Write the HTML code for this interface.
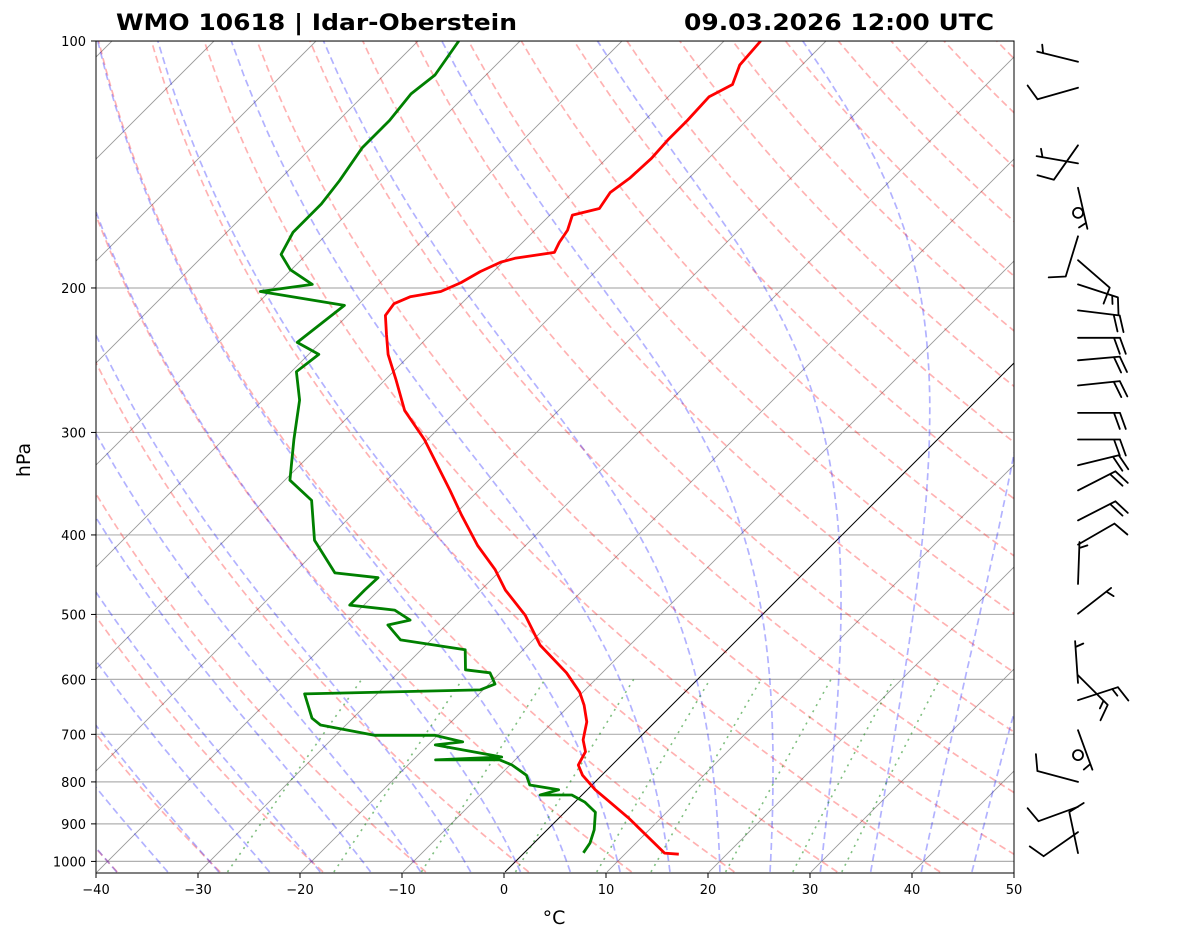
<!DOCTYPE html>
<html><head><meta charset="utf-8"><style>
body{margin:0;background:#fff}
svg{display:block;font-family:"DejaVu Sans","Liberation Sans",sans-serif}
</style></head><body>
<svg id="chart" width="1181" height="941" viewBox="0 0 1181 941" xmlns="http://www.w3.org/2000/svg">
<defs><clipPath id="clip"><rect x="96" y="41" width="918" height="832"/></clipPath></defs>
<rect width="1181" height="941" fill="#fff"/>
<text x="116" y="30" font-size="22" font-weight="bold" textLength="401" lengthAdjust="spacingAndGlyphs">WMO 10618 | Idar-Oberstein</text>
<text x="684" y="30" font-size="22" font-weight="bold" textLength="310" lengthAdjust="spacingAndGlyphs">09.03.2026 12:00 UTC</text>
<g id="plot" clip-path="url(#clip)"></g>
<g id="axes"></g>
<g id="barbs" stroke="#000" stroke-width="1.8" fill="none" stroke-linecap="round"></g>
<text x="30" y="460" font-size="19" text-anchor="middle" transform="rotate(-90 30 460)">hPa</text>
<text x="554" y="924" font-size="19" text-anchor="middle">°C</text>
</svg>
<script>
const tempP=[980,977,885,842,818,785,763,735,711,676,645,622,589,545,501,467,441,412,378,353,306,282,259,241,228,216,209,205,202,197,191,186,184,181,176,170,163,160,153,147,139,132,125,117,113,107,100];
const tempT=[15.3,13.8,6.8,3.0,0.8,-1.9,-3.3,-3.9,-5.3,-6.7,-8.6,-10.3,-13.5,-18.8,-23.2,-27.6,-30.6,-34.7,-39.3,-42.8,-50.3,-55.1,-58.9,-62.2,-64.3,-66.3,-66.6,-65.7,-63.2,-62.1,-61.3,-60.2,-59.2,-55.9,-56.4,-56.8,-57.8,-55.8,-56.3,-55.8,-55.6,-55.8,-55.8,-56.0,-54.9,-56.1,-56.4];
const dewP=[976,950,915,871,847,830,830,818,807,785,763,752,752,746,721,715,702,702,682,669,625,618,608,589,584,552,537,515,508,494,487,467,451,445,406,363,343,306,274,253,241,233,210,202,198,190,182,171,158,148,135,125,116,110,100];
const dewT=[5.8,5.5,4.6,3.0,1.0,-1.0,-4.1,-2.8,-6.1,-7.4,-9.8,-11.5,-17.8,-11.6,-19.3,-16.9,-20.3,-26.2,-32.5,-34.0,-37.1,-20.3,-19.4,-21.0,-23.7,-25.7,-33.0,-35.7,-34.0,-36.5,-41.4,-41.4,-41.3,-46.0,-51.2,-55.4,-59.5,-63.1,-66.4,-69.5,-69.0,-72.3,-71.3,-80.9,-76.5,-80.1,-82.5,-83.5,-83.5,-84.0,-85.0,-85.0,-85.5,-85.0,-86.0];
const windP=[106,114,134,141,151,162,173,185,198,213,230,245,263,284,306,329,353,384,411,459,499,593,606,636,692,742,800,858,921,977];
const windDir=[284,254,215,280,167,0,197,131,108,97,90,85,84,90,90,76,63,63,60,2,52,135,356,72,160,0,285,250,235,348];
const windSpd=[5,10,10,5,5,0,10,10,15,20,20,20,20,20,20,20,20,20,10,5,5,15,5,15,5,0,10,10,10,10];
const xTicks=[-40,-30,-20,-10,0,10,20,30,40,50];
const yTicks=[100,200,300,400,500,600,700,800,900,1000];
const dryT0=[-40,-30,-20,-10,0,10,20,30,40,50,60,70,80,90,100,110,120,130,140,150,160,170,180,190,200];
const moistT0=[-40,-35,-30,-25,-20,-15,-10,-5,0,5,10,15,20,25,30,35,40,45];
const mixW=[0.0004,0.001,0.002,0.004,0.007,0.01,0.016,0.024,0.032];
const PBOT=1030,PTOP=100;
const NS="http://www.w3.org/2000/svg";
function yP(p){return 41+356.3*Math.log(p/100);}
function xT(T,p){return 504+10.2*T+(873-yP(p));}
const plot=document.getElementById('plot'),axes=document.getElementById('axes'),barbs=document.getElementById('barbs');
function mk(tag,attrs,parent){const e=document.createElementNS(NS,tag);for(const k in attrs)e.setAttribute(k,attrs[k]);parent.appendChild(e);return e;}
function pathFrom(ps,ts){let d='';for(let i=0;i<ps.length;i++){d+=(i?'L':'M')+xT(ts[i],ps[i]).toFixed(1)+' '+yP(ps[i]).toFixed(1);}return d;}
function pressures(a,b,n){const r=[];for(let i=0;i<=n;i++)r.push(a*Math.pow(b/a,i/n));return r;}
for(const p of yTicks){const l=mk('line',{x1:96,x2:1014,y1:yP(p),y2:yP(p),stroke:'#b0b0b0','stroke-width':1.2},plot);

}
for(let T=-140;T<=50;T+=10){const l=mk('line',{x1:xT(T,PBOT),y1:yP(PBOT),x2:xT(T,PTOP),y2:yP(PTOP),stroke:T===0?'#000':'#999','stroke-width':T===0?1:0.9},plot);

}
const pr=pressures(PBOT,PTOP,60);
for(const t0 of dryT0){const ts=pr.map(p=>(t0+273.15)*Math.pow(p/1000,0.2857)-273.15);
const e=mk('path',{d:pathFrom(pr,ts),fill:'none',stroke:'#ff0000','stroke-opacity':0.3,'stroke-width':1.7,'stroke-dasharray':'7,4'},plot);

}
function es(Tc){return 6.112*Math.exp(17.67*Tc/(Tc+243.5));}
function dTdp(T,p){const Tc=T-273.15,e=es(Tc),rs=0.622*e/(p-e),Rd=287.04,Cp=1005.7,Lv=2.501e6;return (Rd*T+Lv*rs)/(Cp+Lv*Lv*rs*0.622/(Rd*T*T))/p;}
function integ(T,p0,p1,n){const out=[[p0,T]];const h=(p1-p0)/n;let p=p0;for(let i=0;i<n;i++){const k1=dTdp(T,p),k2=dTdp(T+h/2*k1,p+h/2),k3=dTdp(T+h/2*k2,p+h/2),k4=dTdp(T+h*k3,p+h);T+=h/6*(k1+2*k2+2*k3+k4);p+=h;out.push([p,T]);}return out;}
for(const t0 of moistT0){const up=integ(t0+273.15,1000,PTOP,90),dn=integ(t0+273.15,1000,PBOT,3).reverse();const all=dn.concat(up.slice(1));
const e=mk('path',{d:pathFrom(all.map(a=>a[0]),all.map(a=>a[1]-273.15)),fill:'none',stroke:'#0000ff','stroke-opacity':0.3,'stroke-width':1.7,'stroke-dasharray':'7,4'},plot);

}
const pm=pressures(PBOT,600,20);
for(const w of mixW){const ts=pm.map(p=>{const e=p*w/(0.622+w),l=Math.log(e/6.112);return 243.5*l/(17.67-l);});
const e=mk('path',{d:pathFrom(pm,ts),fill:'none',stroke:'#008000','stroke-opacity':0.5,'stroke-width':1.6,'stroke-dasharray':'2,5'},plot);

}
const tl=mk('path',{d:pathFrom(tempP,tempT),fill:'none',stroke:'#ff0000','stroke-width':2.8,'stroke-linejoin':'round'},plot);


const dl=mk('path',{d:pathFrom(dewP,dewT),fill:'none',stroke:'#008000','stroke-width':2.8,'stroke-linejoin':'round'},plot);


const fr=mk('rect',{x:96,y:41,width:918,height:832,fill:'none',stroke:'#000','stroke-width':1},axes);


for(const t of xTicks){const x=504+10.2*t;mk('line',{x1:x,x2:x,y1:873,y2:878,stroke:'#000'},axes);
const tx=mk('text',{x:x,y:894,'font-size':13,'text-anchor':'middle'},axes);tx.textContent=(t<0?'−':'')+Math.abs(t);

}
for(const p of yTicks){const y=yP(p);mk('line',{x1:91,x2:96,y1:y,y2:y,stroke:'#000'},axes);
const tx=mk('text',{x:86,y:y+5,'font-size':13,'text-anchor':'end'},axes);tx.textContent=p;

}
const BX=1078,L=42,FL=17,SP=6,rad=Math.PI/180,c70=Math.cos(70*rad),s70=Math.sin(70*rad);
for(let i=0;i<windP.length;i++){const y=yP(windP[i]);const g=mk('g',{},barbs);


if(windSpd[i]===0){mk('circle',{cx:BX,cy:y,r:5},g);continue;}
const dx=Math.sin(windDir[i]*rad),dy=-Math.cos(windDir[i]*rad);const tx=BX+L*dx,ty=y+L*dy;
const fx=dx*c70-dy*s70,fy=dx*s70+dy*c70;
let d='M'+BX+' '+y.toFixed(1)+'L'+tx.toFixed(1)+' '+ty.toFixed(1);
const n10=Math.floor(windSpd[i]/10),half=(windSpd[i]%10)>=5;
for(let k=0;k<n10;k++){const bx=tx-k*SP*dx,by=ty-k*SP*dy;d+='M'+bx.toFixed(1)+' '+by.toFixed(1)+'l'+(FL*fx).toFixed(1)+' '+(FL*fy).toFixed(1);}
if(half){const k=n10===0?1:n10;const bx=tx-k*SP*dx,by=ty-k*SP*dy;d+='M'+bx.toFixed(1)+' '+by.toFixed(1)+'l'+(FL/2*fx).toFixed(1)+' '+(FL/2*fy).toFixed(1);}
mk('path',{d:d},g);}
</script>
</body></html>
